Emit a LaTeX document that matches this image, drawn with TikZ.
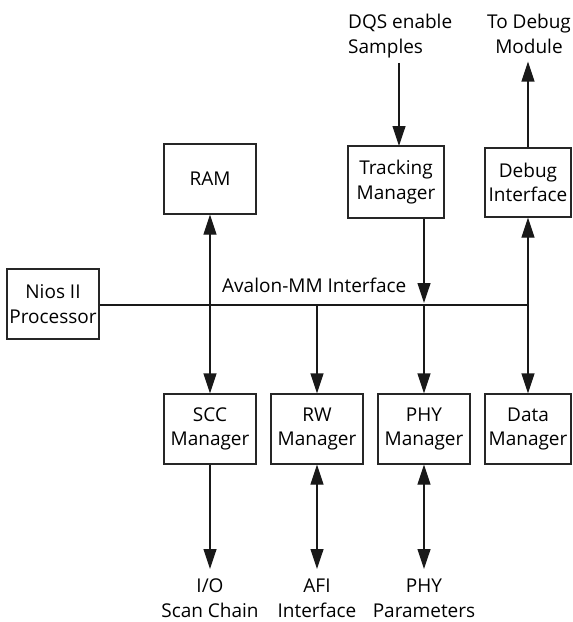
\documentclass[tikz,border=0pt]{standalone}
\usepackage{fontspec}
\setmainfont{Open Sans}
\usetikzlibrary{arrows.meta,calc}
\begin{document}
\begin{tikzpicture}[x=1pt,y=1pt,
  every node/.style={font=\fontsize{19}{24.5}\selectfont},
  blk/.style={draw=black!85, line width=1.2pt, minimum width=92pt, minimum height=70pt,
              inner sep=0pt, align=center},
  lbl/.style={inner sep=0pt, align=center},
  wire/.style={line width=1.2pt, draw=black!90},
  tip/.tip={Triangle[length=20pt,width=13pt]},
  arr/.style={wire, -tip},
  dbl/.style={wire, tip-tip}]
  \useasboundingbox (0,0) rectangle (573,-622);

  % blocks
  \node[blk] (nios) at (53,-304) {Nios II\\Processor};
  \node[blk] (ram)  at (210,-179) {RAM};
  \node[blk, minimum width=96pt, minimum height=72pt] (trk) at (396,-182) {Tracking\\Manager};
  \node[blk, minimum width=86pt, minimum height=69pt] (dbg) at (528,-182.5) {Debug\\Interface};
  \node[blk] (scc)  at (210,-429) {SCC\\Manager};
  \node[blk] (rw)   at (317,-429) {RW\\Manager};
  \node[blk] (phy)  at (424,-429) {PHY\\Manager};
  \node[blk, minimum width=86pt] (data) at (528,-429) {Data\\Manager};

  % free labels
  \node[lbl, align=left, anchor=north west] (dqs) at (348,-14) {DQS enable\\Samples};
  \node[lbl, anchor=north] (tdm) at (529,-14) {To Debug\\Module};
  \node[lbl, anchor=base west] (avl) at (222,-292) {Avalon-MM Interface};
  \node[lbl, anchor=north] (io)  at (210,-579) {I/O\\Scan Chain};
  \node[lbl, anchor=north] (afi) at (317,-579) {AFI\\Interface};
  \node[lbl, anchor=north] (par) at (424,-579) {PHY\\Parameters};

  % bus
  \coordinate (busR) at (528,-305);
  \coordinate (trkin) at (399,-146);
  \draw[wire] (nios.east |- busR) -- (busR);

  % connections
  \draw[dbl] (ram.south) -- (scc.north);
  \draw[arr] (rw.north |- busR) -- (rw.north);
  \draw[arr] ([yshift=-5pt]dqs.south -| trkin) -- (trkin);
  \draw[arr] (trk.south -| phy.north) -- ([yshift=2pt]phy.north |- busR);
  \draw[arr] (phy.north |- busR) -- (phy.north);
  \draw[dbl] (dbg.south) -- (data.north);
  \draw[arr] (dbg.north) -- ([yshift=-8pt]dbg.north |- tdm.south);
  \draw[arr] (scc.south) -- ([yshift=10pt]io.north);
  \draw[dbl] (rw.south) -- ([yshift=10pt]afi.north);
  \draw[dbl] (phy.south) -- ([yshift=10pt]par.north);
\end{tikzpicture}
\end{document}
